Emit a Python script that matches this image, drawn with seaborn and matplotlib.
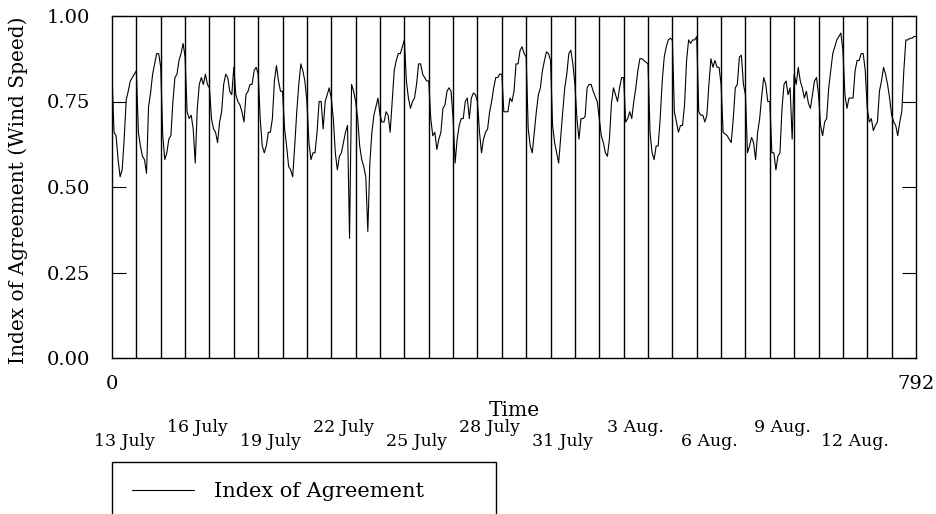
import numpy as np
import matplotlib
matplotlib.use("Agg")
import matplotlib.pyplot as plt
import seaborn as sns

sns.set_theme(style="white")
plt.rcParams["font.family"] = ["DejaVu Serif"]
plt.rcParams["text.color"] = "black"

# ── Data: index of agreement, read every 2 hours (one row = one day) ─────────
ioa = [
    0.83, 0.66, 0.65, 0.58, 0.53, 0.55, 0.64, 0.755, 0.78, 0.81, 0.82, 0.83,
    0.84, 0.66, 0.62, 0.59, 0.58, 0.54, 0.735, 0.775, 0.83, 0.86, 0.89, 0.89,
    0.85, 0.65, 0.58, 0.60, 0.64, 0.65, 0.75, 0.82, 0.83, 0.87, 0.89, 0.92,
    0.88, 0.72, 0.70, 0.71, 0.67, 0.57, 0.73, 0.80, 0.82, 0.80, 0.83, 0.80,
    0.79, 0.70, 0.67, 0.66, 0.63, 0.69, 0.72, 0.80, 0.83, 0.82, 0.78, 0.77,
    0.85, 0.77, 0.75, 0.74, 0.72, 0.69, 0.77, 0.78, 0.80, 0.80, 0.84, 0.85,
    0.83, 0.70, 0.62, 0.60, 0.62, 0.66, 0.66, 0.70, 0.81, 0.855, 0.81, 0.78,
    0.78, 0.67, 0.62, 0.56, 0.55, 0.53, 0.62, 0.72, 0.80, 0.86, 0.84, 0.81,
    0.75, 0.63, 0.58, 0.60, 0.60, 0.66, 0.75, 0.75, 0.67, 0.75, 0.77, 0.79,
    0.76, 0.70, 0.60, 0.55, 0.59, 0.60, 0.63, 0.66, 0.68, 0.35, 0.80, 0.78,
    0.75, 0.70, 0.62, 0.58, 0.56, 0.53, 0.37, 0.57, 0.66, 0.71, 0.735, 0.76,
    0.71, 0.69, 0.69, 0.72, 0.71, 0.66, 0.75, 0.84, 0.87, 0.89, 0.89, 0.91,
    0.93, 0.81, 0.76, 0.73, 0.75, 0.76, 0.80, 0.86, 0.86, 0.83, 0.82, 0.81,
    0.81, 0.70, 0.65, 0.66, 0.61, 0.64, 0.66, 0.73, 0.74, 0.78, 0.79, 0.78,
    0.70, 0.57, 0.64, 0.68, 0.70, 0.70, 0.75, 0.76, 0.70, 0.76, 0.775, 0.77,
    0.75, 0.66, 0.60, 0.64, 0.66, 0.67, 0.72, 0.75, 0.79, 0.82, 0.82, 0.83,
    0.83, 0.72, 0.72, 0.72, 0.76, 0.75, 0.78, 0.86, 0.86, 0.90, 0.91, 0.89,
    0.88, 0.67, 0.62, 0.60, 0.66, 0.72, 0.77, 0.79, 0.84, 0.87, 0.895, 0.89,
    0.87, 0.68, 0.63, 0.60, 0.57, 0.645, 0.72, 0.79, 0.83, 0.89, 0.90, 0.86,
    0.80, 0.70, 0.64, 0.70, 0.70, 0.705, 0.79, 0.80, 0.80, 0.78, 0.765, 0.75,
    0.70, 0.65, 0.63, 0.60, 0.59, 0.64, 0.745, 0.79, 0.77, 0.75, 0.79, 0.82,
    0.82, 0.69, 0.70, 0.72, 0.70, 0.75, 0.79, 0.84, 0.875, 0.875, 0.87, 0.865,
    0.86, 0.66, 0.60, 0.58, 0.62, 0.62, 0.70, 0.81, 0.88, 0.91, 0.93, 0.935,
    0.93, 0.72, 0.69, 0.66, 0.68, 0.68, 0.74, 0.87, 0.93, 0.92, 0.93, 0.93,
    0.94, 0.72, 0.71, 0.71, 0.69, 0.71, 0.80, 0.875, 0.85, 0.87, 0.85, 0.85,
    0.80, 0.66, 0.655, 0.65, 0.64, 0.63, 0.70, 0.79, 0.80, 0.88, 0.885, 0.80,
    0.77, 0.60, 0.62, 0.645, 0.63, 0.58, 0.66, 0.70, 0.765, 0.82, 0.80, 0.75,
    0.75, 0.60, 0.60, 0.55, 0.59, 0.60, 0.73, 0.80, 0.81, 0.77, 0.79, 0.64,
    0.83, 0.80, 0.85, 0.81, 0.79, 0.76, 0.78, 0.745, 0.73, 0.77, 0.81, 0.82,
    0.77, 0.68, 0.65, 0.69, 0.70, 0.79, 0.84, 0.89, 0.91, 0.93, 0.94, 0.95,
    0.90, 0.77, 0.73, 0.76, 0.76, 0.76, 0.84, 0.87, 0.87, 0.89, 0.89, 0.84,
    0.73, 0.69, 0.70, 0.665, 0.68, 0.69, 0.78, 0.81, 0.85, 0.83, 0.80, 0.76,
    0.71, 0.69, 0.68, 0.65, 0.69, 0.72, 0.84, 0.93, 0.93, 0.935, 0.935, 0.94,
    0.94,
]
hours = np.arange(0, 2 * len(ioa), 2)

day_marks = list(range(24, 792, 24))
date_labels = ["13 July", "16 July", "19 July", "22 July", "25 July", "28 July",
               "31 July", "3 Aug.", "6 Aug.", "9 Aug.", "12 Aug."]
date_hours = [12, 84, 156, 228, 300, 372, 444, 516, 588, 660, 732]
y_ticks = [0.0, 0.25, 0.5, 0.75, 1.0]

# ── Figure ───────────────────────────────────────────────────────────────────
fig = plt.figure(figsize=(9.37, 5.14), dpi=100)
ax = fig.add_axes([112 / 937, 1 - 358 / 514, 804 / 937, 342 / 514])

sns.lineplot(x=hours, y=ioa, ax=ax, color="black", linewidth=0.8,
             label="Index of Agreement")
for h in day_marks:
    ax.axvline(h, color="black", linewidth=1.0)

ax.set_xlim(0, 792)
ax.set_ylim(0, 1)
ax.set_yticks(y_ticks)
ax.set_yticklabels([f"{v:.2f}" for v in y_ticks])
ax.set_xticks([0, 792])
ax.set_xticklabels(["0", "792"])
ax.tick_params(axis="y", direction="in", length=10, width=0.8, left=True,
               right=True, labelsize=14, pad=16, colors="black")
ax.tick_params(axis="x", length=0, labelsize=14, pad=12, colors="black")
for s in ax.spines.values():
    s.set_color("black")
    s.set_linewidth(1.0)

ax.set_xlabel("Time", fontsize=14.5, color="black")
ax.xaxis.set_label_coords(0.5, -0.125)
ax.set_ylabel("Index of Agreement (Wind Speed)", fontsize=14.5, color="black")
ax.yaxis.set_label_coords(-0.104, 0.49)

# staggered date labels under the axis
for i, (h, lab) in enumerate(zip(date_hours, date_labels)):
    y = -0.2456 if i % 2 == 0 else -0.2018
    ax.text(h, y, lab, transform=ax.get_xaxis_transform(), ha="center",
            va="center", fontsize=12.5, color="black")

leg = ax.legend(loc="upper left", bbox_to_anchor=(112 / 937, 0.0, 384 / 937, 1 - 462 / 514),
                bbox_transform=fig.transFigure, mode="expand", borderaxespad=0,
                fontsize=15, frameon=True, fancybox=False, borderpad=0.95,
                handlelength=3.0, handletextpad=0.95)
leg.get_frame().set_edgecolor("black")
leg.get_frame().set_linewidth(1.0)
leg.get_frame().set_alpha(1)
for t in leg.get_texts():
    t.set_color("black")

fig.savefig("out.png", dpi=100)
